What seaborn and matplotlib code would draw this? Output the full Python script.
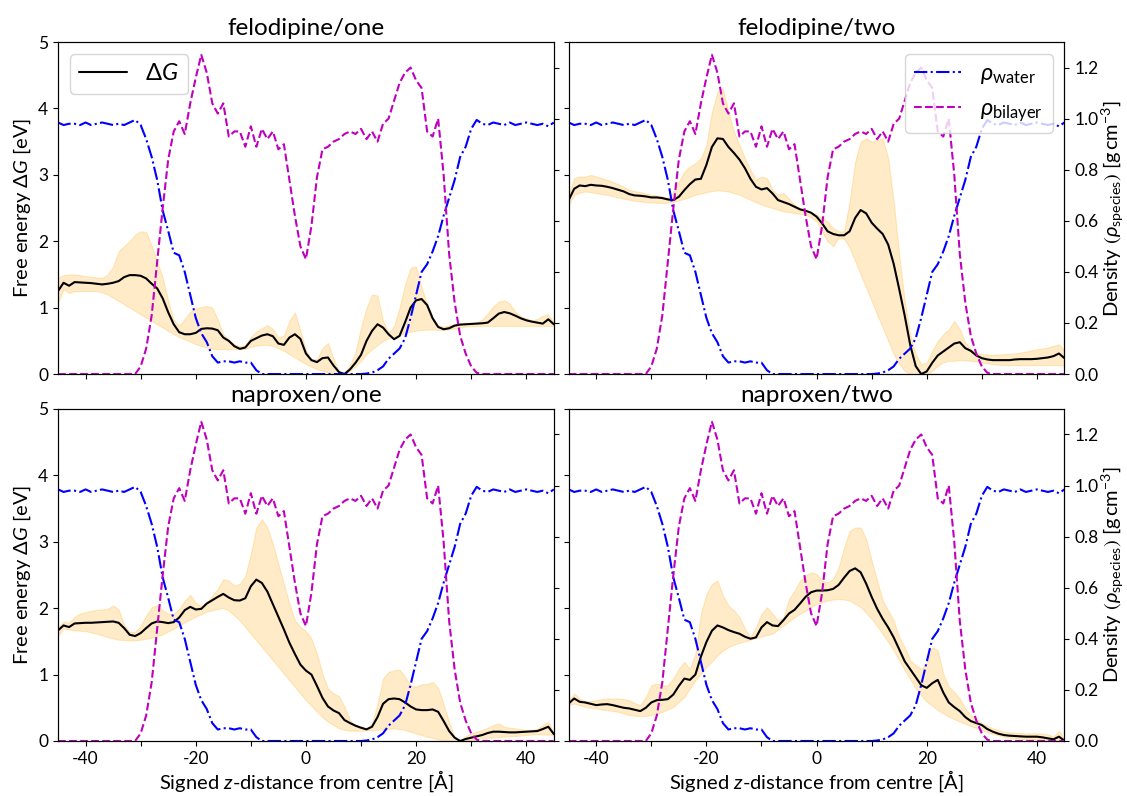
import numpy as np
import matplotlib
matplotlib.use("Agg")
import matplotlib.pyplot as plt
import seaborn as sns
from matplotlib.ticker import FixedLocator, NullFormatter

# Signed distance from the bilayer centre [Å], 1 Å grid
z = np.arange(-45, 46)

# Mass densities of the two species [g cm^-3]
rho_water = [
    0.985, 0.975, 0.98, 0.98, 0.975, 0.985, 0.975, 0.98, 0.985, 0.98,
    0.975, 0.98, 0.975, 0.985, 0.995, 0.975, 0.92, 0.85, 0.76, 0.64,
    0.56, 0.475, 0.465, 0.40, 0.31, 0.22, 0.16, 0.125, 0.07, 0.045,
    0.05, 0.05, 0.045, 0.05, 0.045, 0.045, 0.015, 0.0, 0.0, 0.0,
    0.0, 0.0, 0.0, 0.0, 0.0, 0.0, 0.0, 0.0, 0.0, 0.0,
    0.0, 0.0, 0.0, 0.0, 0.0, 0.0, 0.002, 0.006, 0.015, 0.03,
    0.06, 0.08, 0.10, 0.14, 0.22, 0.31, 0.40, 0.43, 0.48, 0.54,
    0.62, 0.69, 0.76, 0.85, 0.89, 0.96, 0.995, 0.98, 0.975, 0.985,
    0.98, 0.975, 0.985, 0.975, 0.98, 0.985, 0.98, 0.975, 0.98, 0.97,
    0.985,
]
rho_bilayer = [
    0.0, 0.0, 0.0, 0.0, 0.0, 0.0, 0.0, 0.0, 0.0, 0.0,
    0.0, 0.0, 0.0, 0.0, 0.0, 0.03, 0.10, 0.23, 0.44, 0.65,
    0.84, 0.95, 0.99, 0.94, 1.06, 1.16, 1.25, 1.18, 1.06, 1.02,
    1.06, 0.93, 0.95, 0.95, 0.89, 0.97, 0.89, 0.96, 0.92, 0.95,
    0.88, 0.90, 0.76, 0.62, 0.50, 0.45, 0.58, 0.77, 0.88, 0.89,
    0.91, 0.92, 0.94, 0.95, 0.94, 0.96, 0.92, 0.95, 0.91, 0.98,
    1.0, 1.07, 1.14, 1.18, 1.20, 1.15, 1.12, 0.95, 0.93, 1.0,
    0.78, 0.47, 0.28, 0.15, 0.08, 0.03, 0.005, 0.0, 0.0, 0.0,
    0.0, 0.0, 0.0, 0.0, 0.0, 0.0, 0.0, 0.0, 0.0, 0.0,
    0.0,
]

# Free-energy profiles [eV] with their lower / upper uncertainty bounds
felodipine_one_dg = [
    1.25, 1.375, 1.33, 1.385, 1.38, 1.375, 1.37, 1.36, 1.35, 1.36,
    1.375, 1.40, 1.46, 1.49, 1.49, 1.48, 1.44, 1.36, 1.29, 1.14,
    0.93, 0.75, 0.63, 0.60, 0.60, 0.62, 0.68, 0.69, 0.685, 0.66,
    0.55, 0.50, 0.42, 0.38, 0.40, 0.50, 0.54, 0.58, 0.60, 0.57,
    0.46, 0.44, 0.55, 0.60, 0.53, 0.31, 0.21, 0.18, 0.24, 0.25,
    0.13, 0.03, 0.0, 0.07, 0.17, 0.29, 0.50, 0.65, 0.75, 0.70,
    0.60, 0.525, 0.575, 0.78, 1.0, 1.11, 1.13, 1.04, 0.84, 0.71,
    0.675, 0.69, 0.73, 0.745, 0.75, 0.755, 0.76, 0.765, 0.775, 0.84,
    0.91, 0.935, 0.915, 0.88, 0.84, 0.81, 0.79, 0.775, 0.76, 0.825,
    0.75,
]
felodipine_one_hi = [
    1.45, 1.49, 1.5, 1.5, 1.49, 1.475, 1.465, 1.455, 1.45, 1.5,
    1.62, 1.85, 1.93, 2.0, 2.1, 2.15, 2.14, 1.93, 1.7, 1.45,
    1.1, 0.82, 0.73, 0.83, 0.94, 0.99, 1.01, 1.025, 1.0, 0.82,
    0.6, 0.52, 0.45, 0.42, 0.44, 0.56, 0.64, 0.69, 0.74, 0.68,
    0.55, 0.58, 0.8, 0.93, 0.65, 0.36, 0.22, 0.225, 0.39, 0.47,
    0.24, 0.04, 0.03, 0.13, 0.33, 0.7, 1.0, 1.2, 1.18, 0.8,
    0.62, 0.72, 1.0, 1.35, 1.6, 1.62, 1.3, 1.06, 0.86, 0.73,
    0.715, 0.735, 0.75, 0.765, 0.775, 0.775, 0.78, 0.82, 0.91, 1.02,
    1.09, 1.11, 1.06, 0.94, 0.87, 0.84, 0.81, 0.83, 0.88, 0.9,
    0.775,
]
felodipine_one_lo = [
    1.075, 1.28, 1.22, 1.25, 1.25, 1.25, 1.25, 1.25, 1.23, 1.2,
    1.15, 1.1, 1.05, 1.0, 0.95, 0.9, 0.85, 0.8, 0.75, 0.7,
    0.65, 0.6, 0.56, 0.525, 0.49, 0.45, 0.425, 0.4, 0.385, 0.375,
    0.375, 0.375, 0.38, 0.375, 0.38, 0.41, 0.43, 0.44, 0.44, 0.425,
    0.39, 0.35, 0.3, 0.25, 0.2, 0.15, 0.11, 0.075, 0.05, 0.025,
    0.01, 0.0, 0.0, 0.05, 0.12, 0.2, 0.3, 0.375, 0.44, 0.5,
    0.54, 0.56, 0.59, 0.62, 0.64, 0.655, 0.665, 0.67, 0.67, 0.665,
    0.665, 0.675, 0.69, 0.705, 0.715, 0.72, 0.725, 0.725, 0.725, 0.725,
    0.725, 0.725, 0.725, 0.725, 0.725, 0.725, 0.725, 0.725, 0.725, 0.725,
    0.725,
]

felodipine_two_dg = [
    2.62, 2.79, 2.84, 2.83, 2.85, 2.84, 2.835, 2.82, 2.80, 2.775,
    2.75, 2.71, 2.69, 2.685, 2.675, 2.66, 2.66, 2.65, 2.63, 2.62,
    2.67, 2.77, 2.86, 2.93, 2.94, 3.15, 3.42, 3.55, 3.54, 3.42,
    3.33, 3.23, 3.1, 2.94, 2.82, 2.78, 2.8, 2.72, 2.62, 2.59,
    2.56, 2.52, 2.48, 2.46, 2.43, 2.37, 2.27, 2.15, 2.11, 2.09,
    2.09, 2.15, 2.35, 2.47, 2.42, 2.28, 2.19, 2.11, 1.95, 1.66,
    1.28, 0.88, 0.44, 0.12, 0.0, 0.04, 0.17, 0.28, 0.34, 0.40,
    0.46, 0.48, 0.39, 0.35, 0.28, 0.24, 0.22, 0.21, 0.21, 0.21,
    0.21, 0.22, 0.225, 0.225, 0.225, 0.23, 0.24, 0.25, 0.27, 0.31,
    0.24,
]
felodipine_two_hi = [
    2.7, 2.95, 2.975, 2.975, 3.0, 2.975, 2.95, 2.925, 2.89, 2.86,
    2.82, 2.775, 2.755, 2.74, 2.72, 2.7, 2.69, 2.675, 2.65, 2.75,
    2.9, 3.05, 3.125, 3.175, 3.25, 3.45, 3.95, 4.25, 4.3, 3.95,
    3.65, 3.45, 3.25, 3.075, 2.925, 2.975, 2.95, 2.775, 2.7, 2.725,
    2.64, 2.55, 2.5, 2.47, 2.44, 2.4, 2.35, 2.3, 2.2, 2.15,
    2.15, 2.6, 3.2, 3.5, 3.55, 3.5, 3.525, 3.55, 3.25, 2.6,
    1.8, 1.1, 0.6, 0.3, 0.15, 0.175, 0.35, 0.5, 0.6, 0.675,
    0.8, 0.675, 0.475, 0.375, 0.33, 0.3, 0.295, 0.29, 0.295, 0.3,
    0.305, 0.31, 0.325, 0.34, 0.355, 0.375, 0.385, 0.4, 0.425, 0.45,
    0.35,
]
felodipine_two_lo = [
    2.55, 2.7, 2.73, 2.75, 2.74, 2.725, 2.71, 2.7, 2.68, 2.66,
    2.64, 2.625, 2.61, 2.6, 2.59, 2.585, 2.58, 2.575, 2.58, 2.59,
    2.615, 2.64, 2.67, 2.7, 2.72, 2.74, 2.755, 2.765, 2.76, 2.75,
    2.725, 2.7, 2.66, 2.625, 2.59, 2.55, 2.525, 2.5, 2.475, 2.45,
    2.44, 2.425, 2.41, 2.4, 2.36, 2.3, 2.15, 2.0, 1.925, 2.05,
    2.04, 1.9, 1.7, 1.5, 1.3, 1.1, 0.9, 0.7, 0.5, 0.3,
    0.15, 0.05, 0.0, 0.0, 0.0, 0.0, 0.05, 0.125, 0.175, 0.2,
    0.2, 0.21, 0.205, 0.2, 0.19, 0.175, 0.16, 0.15, 0.14, 0.135,
    0.135, 0.135, 0.135, 0.135, 0.135, 0.135, 0.135, 0.135, 0.135, 0.135,
    0.125,
]

naproxen_one_dg = [
    1.665, 1.74, 1.715, 1.77, 1.775, 1.78, 1.78, 1.785, 1.79, 1.795,
    1.80, 1.78, 1.70, 1.60, 1.58, 1.625, 1.70, 1.77, 1.80, 1.79,
    1.775, 1.79, 1.86, 1.97, 2.02, 1.98, 1.99, 2.07, 2.12, 2.17,
    2.215, 2.16, 2.12, 2.115, 2.15, 2.33, 2.43, 2.38, 2.25, 2.06,
    1.87, 1.68, 1.48, 1.31, 1.15, 1.06, 1.0, 0.83, 0.65, 0.52,
    0.46, 0.42, 0.315, 0.27, 0.23, 0.20, 0.175, 0.215, 0.36, 0.56,
    0.63, 0.64, 0.63, 0.58, 0.52, 0.475, 0.465, 0.465, 0.475, 0.44,
    0.30, 0.15, 0.05, 0.0, 0.03, 0.05, 0.07, 0.09, 0.12, 0.14,
    0.14, 0.135, 0.13, 0.13, 0.135, 0.14, 0.145, 0.15, 0.18, 0.215,
    0.105,
]
naproxen_one_hi = [
    1.715, 1.8, 1.78, 1.87, 1.92, 1.94, 1.96, 1.975, 1.98, 1.99,
    2.04, 1.98, 1.75, 1.64, 1.64, 1.74, 1.89, 2.015, 2.04, 1.965,
    1.915, 1.915, 1.99, 2.115, 2.2, 2.08, 2.03, 2.09, 2.19, 2.29,
    2.44, 2.415, 2.34, 2.365, 2.49, 2.815, 3.215, 3.34, 3.215, 2.965,
    2.665, 2.365, 2.065, 1.815, 1.715, 1.655, 1.54, 1.315, 1.015, 0.79,
    0.715, 0.675, 0.515, 0.315, 0.24, 0.215, 0.19, 0.265, 0.565, 0.94,
    1.04, 1.065, 1.075, 0.965, 0.84, 0.815, 0.855, 0.86, 0.89, 0.8,
    0.55, 0.28, 0.06, 0.0, 0.075, 0.115, 0.14, 0.165, 0.2, 0.24,
    0.265, 0.215, 0.2, 0.19, 0.18, 0.165, 0.17, 0.18, 0.24, 0.29,
    0.115,
]
naproxen_one_lo = [
    1.59, 1.69, 1.68, 1.665, 1.66, 1.655, 1.635, 1.615, 1.59, 1.565,
    1.545, 1.525, 1.52, 1.515, 1.515, 1.525, 1.54, 1.555, 1.58, 1.605,
    1.65, 1.69, 1.74, 1.79, 1.83, 1.875, 1.91, 1.95, 1.97, 1.99,
    2.0, 1.965, 1.89, 1.815, 1.715, 1.615, 1.515, 1.415, 1.315, 1.215,
    1.115, 1.015, 0.915, 0.815, 0.715, 0.615, 0.53, 0.44, 0.36, 0.29,
    0.24, 0.19, 0.17, 0.155, 0.155, 0.155, 0.16, 0.165, 0.17, 0.175,
    0.18, 0.19, 0.18, 0.165, 0.14, 0.115, 0.09, 0.065, 0.045, 0.025,
    0.01, 0.0, 0.0, 0.0, 0.01, 0.015, 0.03, 0.04, 0.05, 0.055,
    0.06, 0.065, 0.07, 0.075, 0.08, 0.09, 0.1, 0.105, 0.1, 0.095,
    0.09,
]

naproxen_two_dg = [
    0.565, 0.64, 0.59, 0.58, 0.56, 0.54, 0.55, 0.555, 0.54, 0.52,
    0.50, 0.49, 0.47, 0.45, 0.50, 0.58, 0.615, 0.62, 0.63, 0.70,
    0.83, 0.94, 0.92, 1.0, 1.27, 1.49, 1.66, 1.74, 1.71, 1.67,
    1.64, 1.615, 1.57, 1.54, 1.56, 1.71, 1.79, 1.74, 1.73, 1.82,
    1.92, 1.975, 2.07, 2.17, 2.24, 2.265, 2.265, 2.27, 2.29, 2.35,
    2.46, 2.56, 2.6, 2.54, 2.37, 2.17, 1.99, 1.84, 1.71, 1.56,
    1.38, 1.2, 1.08, 0.96, 0.84, 0.8, 0.87, 0.92, 0.73, 0.58,
    0.51, 0.45, 0.36, 0.30, 0.27, 0.24, 0.18, 0.14, 0.11, 0.09,
    0.08, 0.075, 0.07, 0.065, 0.065, 0.065, 0.055, 0.04, 0.025, 0.065,
    0.005,
]
naproxen_two_hi = [
    0.615, 0.715, 0.64, 0.6, 0.6, 0.615, 0.63, 0.64, 0.64, 0.64,
    0.63, 0.615, 0.57, 0.54, 0.66, 0.84, 0.865, 0.84, 0.84, 0.94,
    1.09, 1.19, 1.09, 1.315, 1.915, 2.215, 2.365, 2.415, 2.19, 2.04,
    1.965, 1.865, 1.69, 1.565, 1.715, 1.915, 2.015, 1.915, 1.815, 1.865,
    2.14, 2.265, 2.415, 2.49, 2.54, 2.515, 2.415, 2.39, 2.44, 2.615,
    2.915, 3.165, 3.215, 3.215, 3.04, 2.715, 2.415, 2.115, 1.965, 1.815,
    1.565, 1.415, 1.215, 1.14, 1.09, 1.165, 1.415, 1.365, 1.015, 0.815,
    0.74, 0.64, 0.49, 0.39, 0.34, 0.265, 0.23, 0.19, 0.165, 0.14,
    0.13, 0.125, 0.12, 0.115, 0.115, 0.115, 0.11, 0.1, 0.065, 0.155,
    0.025,
]
naproxen_two_lo = [
    0.54, 0.565, 0.54, 0.515, 0.5, 0.49, 0.475, 0.465, 0.45, 0.44,
    0.415, 0.39, 0.38, 0.375, 0.38, 0.39, 0.41, 0.44, 0.475, 0.515,
    0.59, 0.665, 0.79, 0.915, 1.015, 1.115, 1.2, 1.29, 1.36, 1.415,
    1.45, 1.48, 1.5, 1.525, 1.55, 1.575, 1.595, 1.615, 1.68, 1.74,
    1.8, 1.865, 1.915, 1.965, 2.015, 2.065, 2.09, 2.115, 2.13, 2.14,
    2.13, 2.115, 2.065, 2.015, 1.93, 1.84, 1.73, 1.615, 1.49, 1.365,
    1.215, 1.065, 0.93, 0.79, 0.69, 0.59, 0.53, 0.465, 0.415, 0.365,
    0.33, 0.29, 0.26, 0.225, 0.195, 0.165, 0.135, 0.105, 0.085, 0.065,
    0.05, 0.04, 0.035, 0.03, 0.028, 0.025, 0.02, 0.015, 0.01, 0.005,
    0.0,
]

panel_titles = ["felodipine/one", "felodipine/two", "naproxen/one", "naproxen/two"]
profiles = [
    (felodipine_one_dg, felodipine_one_lo, felodipine_one_hi),
    (felodipine_two_dg, felodipine_two_lo, felodipine_two_hi),
    (naproxen_one_dg, naproxen_one_lo, naproxen_one_hi),
    (naproxen_two_dg, naproxen_two_lo, naproxen_two_hi),
]
x_major = [-40, -20, 0, 20, 40]
x_minor = [-30, -10, 10, 30]
dg_ticks = [0, 1, 2, 3, 4, 5]
rho_ticks = [0.0, 0.2, 0.4, 0.6, 0.8, 1.0, 1.2]

sns.set_style("ticks")
plt.rcParams.update({
    "font.family": ["Lato", "DejaVu Sans"],
    "mathtext.fontset": "custom",
    "mathtext.rm": "Lato",
    "mathtext.it": "Lato:italic",
    "mathtext.bf": "Lato:bold",
    "mathtext.fallback": "stixsans",
    "axes.unicode_minus": False,
    "axes.edgecolor": "black",
    "axes.linewidth": 0.8,
    "text.color": "black",
    "axes.labelcolor": "black",
    "xtick.color": "black",
    "ytick.color": "black",
    "xtick.direction": "out",
    "ytick.direction": "out",
    "xtick.major.size": 3.5,
    "ytick.major.size": 3.5,
    "xtick.minor.size": 3.5,
    "xtick.major.width": 0.8,
    "ytick.major.width": 0.8,
    "xtick.minor.width": 0.8,
})

fig, axes = plt.subplots(2, 2, figsize=(11.27, 7.96), dpi=100, sharex=True, sharey=True)
fig.subplots_adjust(left=0.0515, right=0.9445, bottom=0.0691, top=0.9472,
                    wspace=0.030, hspace=0.105)

for i, ax in enumerate(axes.flat):
    dg, lo, hi = profiles[i]
    ax.fill_between(z, lo, hi, color="orange", alpha=0.22, linewidth=0.8)
    sns.lineplot(x=z, y=dg, ax=ax, color="black", linewidth=1.5, legend=False)
    dg_line = ax.lines[-1]
    ax.set_xlim(-45, 45)
    ax.set_ylim(0, 5)
    ax.set_yticks(dg_ticks)
    ax.xaxis.set_major_locator(FixedLocator(x_major))
    ax.xaxis.set_minor_locator(FixedLocator(x_minor))
    ax.xaxis.set_minor_formatter(NullFormatter())
    ax.tick_params(labelsize=12.5)
    ax.set_title(panel_titles[i], fontsize=17.5, pad=5)

    tw = ax.twinx()
    sns.lineplot(x=z, y=rho_water, ax=tw, color="blue", linestyle="-.",
                 linewidth=1.5, legend=False)
    water_line = tw.lines[-1]
    sns.lineplot(x=z, y=rho_bilayer, ax=tw, color="m", linestyle="--",
                 linewidth=1.5, legend=False)
    bilayer_line = tw.lines[-1]
    tw.set_ylim(0, 1.3)
    tw.set_yticks(rho_ticks)
    tw.tick_params(labelsize=12.5)
    tw.set_ylabel("")
    ax.set_ylabel("")
    ax.set_xlabel("")

    col = i % 2
    row = i // 2
    if col == 0:
        ax.set_ylabel(r"Free energy $\mathit{\Delta G}$ [eV]", fontsize=14.5)
        tw.tick_params(labelright=False)
    else:
        tw.set_ylabel(r"Density $\left(\rho_{\mathrm{species}}\right)$ $[\mathrm{g\,cm}^{-3}]$",
                      fontsize=14.5, labelpad=1)
    if row == 1:
        ax.set_xlabel(r"Signed $z$-distance from centre [Å]", fontsize=14.5, labelpad=1)

    if i == 0:
        ax.legend([dg_line], [r"$\mathit{\Delta G}$"], loc="upper left",
                  fontsize=17, frameon=True)
    if i == 1:
        tw.legend([water_line, bilayer_line],
                  [r"$\rho_{\mathrm{water}}$", r"$\rho_{\mathrm{bilayer}}$"],
                  loc="upper right", fontsize=17, frameon=True)

fig.savefig("out.png", dpi=100)
